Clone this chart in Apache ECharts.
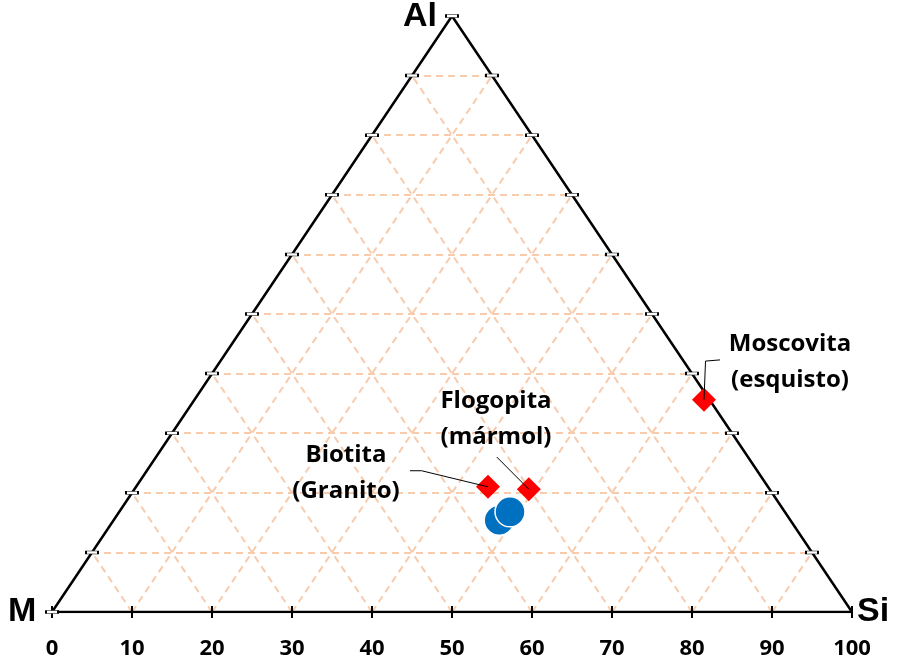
<!DOCTYPE html>
<html>
<head>
<meta charset="utf-8">
<script src="https://cdn.jsdelivr.net/npm/echarts@6/dist/echarts.min.js"></script>
<style>
  html, body { margin: 0; padding: 0; background: #fff; }
  #chart { width: 897px; height: 665px; }
</style>
</head>
<body>
<div id="chart"></div>
<script>
// ternary composition in percent: [Si, Al] (M = 100 - Si - Al)
var diamondNames = ['Moscovita', 'Biotita', 'Flogopita'];
var diamondSi = [63.7, 44.0, 49.3];
var diamondAl = [35.6, 21.0, 20.6];

var circleSi = [48.2, 48.85];
var circleAl = [15.4, 16.8];

var tickLabels = ['0', '10', '20', '30', '40', '50', '60', '70', '80', '90', '100'];
var gridSteps = [10, 20, 30, 40, 50, 60, 70, 80, 90];

// label texts and where they sit (ternary [Si, Al])
var noteTexts = ['Moscovita\n(esquisto)', 'Biotita\n(Granito)', 'Flogopita\n(mármol)'];
var noteSi = [71.25, 25.1, 39.3];
var noteAl = [42.0, 23.3, 32.4];
// leader line bends, ternary [Si, Al]
var leaderPts = [
  [[63.7, 35.6], [60.64, 42.1], [62.35, 42.3]],
  [[44.0, 21.0], [34.35, 23.7], [32.9, 23.7]],
  [[49.3, 20.6], [42.6, 26.0]]
];

// ternary -> cartesian (x = Si + Al/2, y = Al)
function tp(si, al) { return [si + al / 2, al]; }

var chart = echarts.init(document.getElementById('chart'));

var gridLines = [];
gridSteps.forEach(function (k) {
  // constant Al
  gridLines.push({ coords: [tp(0, k), tp(100 - k, k)] });
  // constant Si
  gridLines.push({ coords: [tp(k, 0), tp(k, 100 - k)] });
  // constant M
  gridLines.push({ coords: [tp(100 - k, 0), tp(0, 100 - k)] });
});

var sideTicks = [];
gridSteps.concat([100]).forEach(function (k) {
  sideTicks.push(tp(0, k));
  if (k < 100) sideTicks.push(tp(100 - k, k));
});
sideTicks.push(tp(0, 0));

var baseTicks = tickLabels.map(function (t) { return [Number(t), 0]; });

var diamonds = diamondNames.map(function (n, i) {
  return { name: n, value: tp(diamondSi[i], diamondAl[i]) };
});
var circles = circleSi.map(function (s, i) { return tp(s, circleAl[i]); });
var notes = noteTexts.map(function (t, i) {
  return { name: t, value: tp(noteSi[i], noteAl[i]) };
});
var leaders = leaderPts.map(function (pts) {
  return { coords: pts.map(function (p) { return tp(p[0], p[1]); }) };
});

var boldFont = '"Open Sans", sans-serif';

chart.setOption({
  animation: false,
  backgroundColor: '#fff',
  grid: { left: 52, right: 45, top: 16, bottom: 53 },
  xAxis: {
    type: 'value', min: 0, max: 100, interval: 10,
    axisLine: { show: false },
    axisTick: { show: false },
    splitLine: { show: false },
    axisLabel: {
      margin: 26, color: '#000', fontSize: 22, fontWeight: 'bold', fontFamily: boldFont
    }
  },
  yAxis: { type: 'value', min: 0, max: 100, show: false },
  graphic: [
    { type: 'text', left: 403, top: 0, style: { text: 'Al', fontSize: 34, fontWeight: 'bold', fontFamily: 'Liberation Sans', fill: '#000' } },
    { type: 'text', left: 8, top: 595, style: { text: 'M', fontSize: 34, fontWeight: 'bold', fontFamily: 'Liberation Sans', fill: '#000' } },
    { type: 'text', left: 857, top: 595, style: { text: 'Si', fontSize: 34, fontWeight: 'bold', fontFamily: 'Liberation Sans', fill: '#000' } }
  ],
  series: [
    {
      type: 'lines', coordinateSystem: 'cartesian2d', silent: true, z: 1,
      lineStyle: { color: '#F8CBAD', width: 2, type: [7, 5], opacity: 1 },
      data: gridLines
    },
    {
      type: 'line', silent: true, z: 3, symbol: 'none',
      lineStyle: { color: '#000', width: 2.5 },
      data: [tp(0, 0), tp(0, 100), tp(100, 0), tp(0, 0)]
    },
    {
      type: 'scatter', silent: true, z: 4, symbol: 'rect', symbolSize: [2, 12],
      itemStyle: { color: '#000', opacity: 1 },
      data: baseTicks
    },
    {
      type: 'scatter', silent: true, z: 4, symbol: 'rect', symbolSize: [12, 3],
      itemStyle: { color: '#fff', borderColor: '#000', borderWidth: 1, opacity: 1 },
      data: sideTicks
    },
    {
      type: 'lines', coordinateSystem: 'cartesian2d', polyline: true, silent: true, z: 6,
      lineStyle: { color: '#000', width: 1, opacity: 1 },
      data: leaders
    },
    {
      type: 'scatter', z: 5, symbol: 'diamond', symbolSize: 24,
      itemStyle: { color: '#FF0000', opacity: 1 },
      data: diamonds
    },
    {
      type: 'scatter', z: 5, symbol: 'circle', symbolSize: 30,
      itemStyle: { color: '#0070C0', borderColor: '#fff', borderWidth: 1.5, opacity: 1 },
      data: circles
    },
    {
      type: 'scatter', silent: true, z: 7, symbolSize: 0,
      itemStyle: { opacity: 1 },
      label: {
        show: true, position: 'inside', formatter: '{b}',
        color: '#000', fontSize: 24, fontWeight: 'bold', fontFamily: boldFont, lineHeight: 36, align: 'center'
      },
      data: notes
    }
  ]
});
</script>
</body>
</html>
